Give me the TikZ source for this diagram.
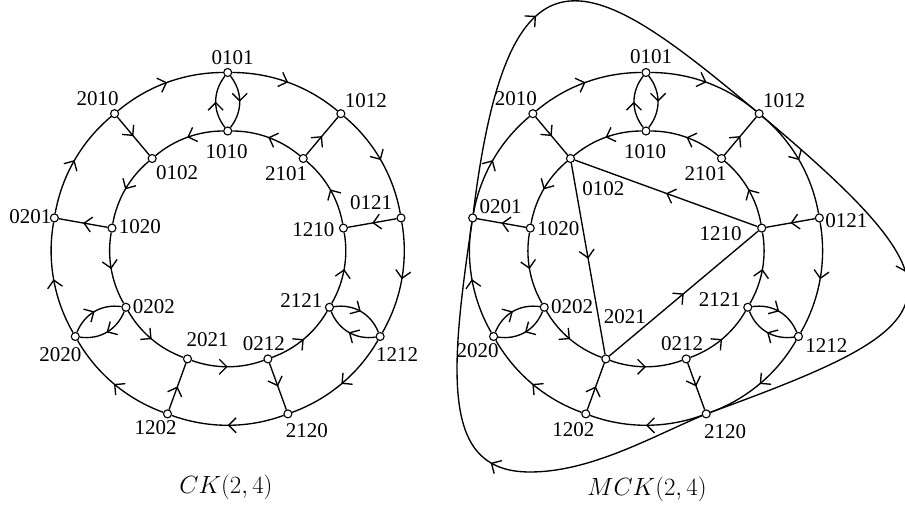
\documentclass[tikz,border=0pt]{standalone}
\usepackage{fontspec}
\setmainfont{Liberation Serif}
\usetikzlibrary{arrows.meta,decorations.markings}
\tikzset{
  vtx/.style={circle,draw,fill=white,inner sep=0pt,minimum size=8pt,line width=1.1pt},
  lbl/.style={inner sep=0pt,font=\fontsize{21}{25}\selectfont},
  captxt/.style={inner sep=0pt,font=\fontsize{25.5}{30}\selectfont},
  ln/.style={line width=1.35pt},
  marr/.style={ln,postaction={decorate},decoration={markings,mark=at position #1 with {\arrow{Straight Barb[length=7.5pt,width=15pt,line width=1.35pt]}}}},
  marr/.default=0.5,
  oarc/.style={marr,bend left=20,looseness=0.88},
  iarc/.style={marr,bend right=20,looseness=0.88},
  lens/.style={marr,bend left=38},
}
\begin{document}
\begin{tikzpicture}[x=1pt,y=1pt]
\useasboundingbox (0,0) rectangle (905,509);
\foreach \p/\cx in {a/227.7,b/646}{
  \begin{scope}[shift={(\cx,260.5)}]
    % outer vertices
    \node[vtx] (\p0101) at (90:176) {};
    \node[vtx] (\p1012) at (50:176) {};
    \node[vtx] (\p0121) at (10:176) {};
    \node[vtx] (\p1212) at (-30:176) {};
    \node[vtx] (\p2120) at (-70:176) {};
    \node[vtx] (\p1202) at (-110:176) {};
    \node[vtx] (\p2020) at (-150:176) {};
    \node[vtx] (\p0201) at (170:176) {};
    \node[vtx] (\p2010) at (130:176) {};
    % inner vertices
    \node[vtx] (\p1010) at (90:117.5) {};
    \node[vtx] (\p2101) at (50:117.5) {};
    \node[vtx] (\p1210) at (10:117.5) {};
    \node[vtx] (\p2121) at (-30:117.5) {};
    \node[vtx] (\p0212) at (-70:117.5) {};
    \node[vtx] (\p2021) at (-110:117.5) {};
    \node[vtx] (\p0202) at (-150:117.5) {};
    \node[vtx] (\p1020) at (170:117.5) {};
    \node[vtx] (\p0102) at (130:117.5) {};
  \end{scope}
  % outer cycle (clockwise)
  \draw[oarc] (\p0101) to (\p1012);
  \draw[oarc] (\p1012) to (\p0121);
  \draw[oarc] (\p0121) to (\p1212);
  \draw[oarc] (\p1212) to (\p2120);
  \draw[oarc] (\p2120) to (\p1202);
  \draw[oarc] (\p1202) to (\p2020);
  \draw[oarc] (\p2020) to (\p0201);
  \draw[oarc] (\p0201) to (\p2010);
  \draw[oarc] (\p2010) to (\p0101);
  % inner cycle (counter-clockwise)
  \draw[iarc] (\p1010) to (\p0102);
  \draw[iarc] (\p0102) to (\p1020);
  \draw[iarc] (\p1020) to (\p0202);
  \draw[iarc] (\p0202) to (\p2021);
  \draw[iarc] (\p2021) to (\p0212);
  \draw[iarc] (\p0212) to (\p2121);
  \draw[iarc] (\p2121) to (\p1210);
  \draw[iarc] (\p1210) to (\p2101);
  \draw[iarc] (\p2101) to (\p1010);
  % spokes
  \draw[lens] (\p1010) to (\p0101);
  \draw[lens] (\p0101) to (\p1010);
  \draw[lens] (\p2020) to (\p0202);
  \draw[lens] (\p0202) to (\p2020);
  \draw[lens] (\p2121) to (\p1212);
  \draw[lens] (\p1212) to (\p2121);
  \draw[marr] (\p2010) -- (\p0102);
  \draw[marr] (\p2101) -- (\p1012);
  \draw[marr] (\p1020) -- (\p0201);
  \draw[marr] (\p0121) -- (\p1210);
  \draw[marr] (\p1202) -- (\p2021);
  \draw[marr] (\p0212) -- (\p2120);
}
% extra edges of MCK(2,4)
\draw[marr] (b1210) -- (b0102);
\draw[marr] (b0102) -- (b2021);
\draw[marr] (b2021) -- (b1210);
\draw[marr=0.45] (b0201) to[out=83,in=140,out looseness=2.49,in looseness=1.83] (b1012);
\draw[marr=0.45] (b1012) to[out=-40,in=20,out looseness=2.39,in looseness=2.18] (b2120);
\draw[marr=0.47] (b2120) .. controls (650,71.2) and (590,37) .. (530,37)
                 .. controls (445,37) and (447.2,123) .. (b0201);
% labels left
\node[lbl] (ta0101) at ([shift={(5,15)}]a0101) {0101};
\node[lbl] (ta2010) at ([shift={(-17,15)}]a2010) {2010};
\node[lbl] (ta1012) at ([shift={(25,13)}]a1012) {1012};
\node[lbl] (ta1010) at ([shift={(-1,-21)}]a1010) {1010};
\node[lbl] (ta0102) at ([shift={(25,-14.5)}]a0102) {0102};
\node[lbl] (ta2101) at ([shift={(-17,-15)}]a2101) {2101};
\node[lbl] (ta0201) at ([shift={(-24,1)}]a0201) {0201};
\node[lbl] (ta1020) at ([shift={(28,1)}]a1020) {1020};
\node[lbl] (ta1210) at ([shift={(-30,-2)}]a1210) {1210};
\node[lbl] (ta0121) at ([shift={(-30,15)}]a0121) {0121};
\node[lbl] (ta0202) at ([shift={(28,0.7)}]a0202) {0202};
\node[lbl] (ta2020) at ([shift={(-15,-18)}]a2020) {2020};
\node[lbl] (ta2021) at ([shift={(20,19)}]a2021) {2021};
\node[lbl] (ta0212) at ([shift={(-4,15)}]a0212) {0212};
\node[lbl] (ta2121) at ([shift={(-28,7)}]a2121) {2121};
\node[lbl] (ta1212) at ([shift={(17,-18)}]a1212) {1212};
\node[lbl] (ta1202) at ([shift={(-12,-14)}]a1202) {1202};
\node[lbl] (ta2120) at ([shift={(19,-17)}]a2120) {2120};
% labels right
\node[lbl] (tb0101) at ([shift={(5,16)}]b0101) {0101};
\node[lbl] (tb2010) at ([shift={(-17,15)}]b2010) {2010};
\node[lbl] (tb1012) at ([shift={(25,13)}]b1012) {1012};
\node[lbl] (tb1010) at ([shift={(-1,-21)}]b1010) {1010};
\node[lbl] (tb0102) at ([shift={(33,-30.5)}]b0102) {0102};
\node[lbl] (tb2101) at ([shift={(-16,-15.5)}]b2101) {2101};
\node[lbl] (tb0201) at ([shift={(28,11)}]b0201) {0201};
\node[lbl] (tb1020) at ([shift={(28,-1)}]b1020) {1020};
\node[lbl] (tb1210) at ([shift={(-41,-6)}]b1210) {1210};
\node[lbl] (tb0121) at ([shift={(27,-3)}]b0121) {0121};
\node[lbl] (tb0202) at ([shift={(28,1)}]b0202) {0202};
\node[lbl] (tb2020) at ([shift={(-16,-14.5)}]b2020) {2020};
\node[lbl] (tb2021) at ([shift={(19,42)}]b2021) {2021};
\node[lbl] (tb0212) at ([shift={(-4,15)}]b0212) {0212};
\node[lbl] (tb2121) at ([shift={(-28,8)}]b2121) {2121};
\node[lbl] (tb1212) at ([shift={(28,-9)}]b1212) {1212};
\node[lbl] (tb1202) at ([shift={(-12.5,-16)}]b1202) {1202};
\node[lbl] (tb2120) at ([shift={(19,-18)}]b2120) {2120};
% captions
\node[captxt] (capL) at (226,22) {$CK(2,4)$};
\node[captxt] (capR) at (647,20) {$MCK(2,4)$};
\end{tikzpicture}
\end{document}
